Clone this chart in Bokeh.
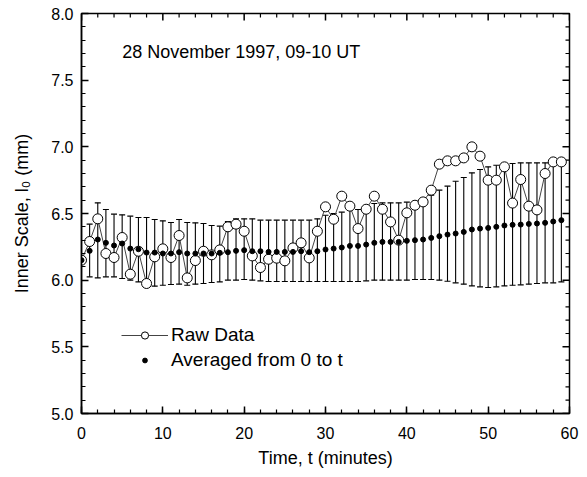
from bokeh.plotting import figure
from bokeh.models import (Range1d, SingleIntervalTicker, ColumnDataSource,
                          Whisker, TeeHead, Legend, LegendItem, Label, NumeralTickFormatter)
from bokeh.embed import file_html
from bokeh.resources import INLINE

# ---- data ----
time_min = list(range(60))
raw_data = [6.15, 6.29, 6.46, 6.20, 6.17, 6.32, 6.045, 6.217, 5.975, 6.175,
            6.235, 6.17, 6.335, 6.017, 6.147, 6.217, 6.19, 6.227, 6.40, 6.42,
            6.367, 6.182, 6.095, 6.157, 6.165, 6.145, 6.242, 6.28, 6.167, 6.367,
            6.55, 6.457, 6.63, 6.555, 6.387, 6.532, 6.63, 6.532, 6.437, 6.30,
            6.505, 6.562, 6.587, 6.675, 6.87, 6.895, 6.895, 6.917, 7.0, 6.93,
            6.75, 6.75, 6.85, 6.578, 6.755, 6.555, 6.527, 6.80, 6.887, 6.887]
averaged = [6.15, 6.22, 6.305, 6.28, 6.26, 6.275, 6.237, 6.232, 6.207, 6.207,
            6.20, 6.20, 6.21, 6.20, 6.20, 6.20, 6.20, 6.205, 6.21, 6.22,
            6.225, 6.217, 6.217, 6.212, 6.212, 6.212, 6.212, 6.217, 6.21, 6.217,
            6.23, 6.237, 6.245, 6.257, 6.257, 6.267, 6.28, 6.287, 6.287, 6.287,
            6.295, 6.30, 6.305, 6.317, 6.33, 6.342, 6.35, 6.362, 6.38, 6.387,
            6.392, 6.40, 6.41, 6.415, 6.417, 6.422, 6.425, 6.43, 6.44, 6.45]
# error bar ends for t = 1 .. 59
err_upper = [6.42, 6.58, 6.53, 6.495, 6.49, 6.48, 6.47, 6.47, 6.455,
             6.445, 6.432, 6.455, 6.432, 6.43, 6.425, 6.41, 6.405, 6.44, 6.46,
             6.46, 6.46, 6.45, 6.45, 6.45, 6.45, 6.45, 6.45, 6.45, 6.46,
             6.487, 6.50, 6.51, 6.53, 6.53, 6.537, 6.575, 6.58, 6.58, 6.58,
             6.585, 6.585, 6.59, 6.637, 6.675, 6.705, 6.742, 6.77, 6.805, 6.83,
             6.85, 6.862, 6.87, 6.875, 6.88, 6.88, 6.88, 6.88, 6.887, 6.90]
err_lower = [6.025, 6.017, 6.025, 6.025, 6.012, 6.0, 5.987, 5.955, 5.955,
             5.962, 5.967, 5.97, 5.962, 5.97, 5.975, 5.982, 5.987, 6.0, 6.0,
             6.005, 6.0, 5.995, 5.99, 5.99, 5.99, 5.99, 5.99, 5.99, 5.99,
             5.99, 5.99, 5.99, 5.99, 5.99, 5.995, 6.0, 6.0, 6.0, 6.0,
             6.0, 6.005, 6.005, 6.005, 6.0, 5.992, 5.98, 5.97, 5.957, 5.95,
             5.945, 5.95, 5.957, 5.962, 5.965, 5.97, 5.975, 5.98, 5.98, 5.987]
title_text = "28 November 1997, 09-10 UT"
x_label = "Time, t (minutes)"
y_label = "Inner Scale, l\u2080 (mm)"
raw_label = "Raw Data"
avg_label = "Averaged from 0 to t"

# axis ticks (also mirrored on the top and right edges)
x_major = list(range(0, 61, 10))
x_minor = [v for v in range(0, 61, 2) if v % 10]
y_major = [5.0, 5.5, 6.0, 6.5, 7.0, 7.5, 8.0]
y_minor = [round(5 + 0.1 * i, 1) for i in range(31) if i % 5]

FONT = "Liberation Sans"
FW, FH = 488, 400          # frame size in px
MAJ, MIN = 7, 4            # tick lengths in px

src = ColumnDataSource(dict(t=time_min, raw=raw_data, avg=averaged))
src_err = ColumnDataSource(dict(t=time_min[1:], upper=err_upper, lower=err_lower))

p = figure(frame_width=FW, frame_height=FH, x_range=Range1d(0, 60), y_range=Range1d(5, 8),
           output_backend="svg", toolbar_location=None,
           min_border_left=81, min_border_right=18, min_border_top=13, min_border_bottom=64)
p.background_fill_color = "white"
p.border_fill_color = "white"
p.outline_line_color = "black"
p.outline_line_width = 1.5
p.xgrid.visible = False
p.ygrid.visible = False
p.extra_x_ranges = {"px_x": Range1d(0, FW)}
p.extra_y_ranges = {"px_y": Range1d(0, FH)}

for ax in (p.xaxis[0], p.yaxis[0]):
    ax.axis_line_color = "black"
    ax.axis_line_width = 1.5
    ax.major_tick_in = MAJ
    ax.major_tick_out = 0
    ax.minor_tick_in = MIN
    ax.minor_tick_out = 0
    ax.major_tick_line_color = "black"
    ax.minor_tick_line_color = "black"
    ax.major_tick_line_width = 1.5
    ax.minor_tick_line_width = 1.2
    ax.major_label_text_font = FONT
    ax.major_label_text_font_size = "16px"
    ax.major_label_text_color = "black"
    ax.axis_label_text_font = FONT
    ax.axis_label_text_font_size = "18px"
    ax.axis_label_text_font_style = "normal"
    ax.axis_label_text_color = "black"

p.xaxis.ticker = SingleIntervalTicker(interval=10, num_minor_ticks=5)
p.yaxis.ticker = SingleIntervalTicker(interval=0.5, num_minor_ticks=5)
p.yaxis.formatter = NumeralTickFormatter(format="0.0")
p.xaxis.axis_label = x_label
p.yaxis.axis_label = y_label
p.xaxis.major_label_standoff = 13
p.yaxis.major_label_standoff = 8
p.xaxis.axis_label_standoff = 6
p.yaxis.axis_label_standoff = 16

# mirrored ticks on top edge
for ticks, ln_, lw in ((x_major, MAJ, 1.5), (x_minor, MIN, 1.2)):
    p.segment(x0=ticks, x1=ticks, y0=[FH] * len(ticks), y1=[FH - ln_] * len(ticks),
              y_range_name="px_y", line_color="black", line_width=lw)
# mirrored ticks on right edge
for ticks, ln_, lw in ((y_major, MAJ, 1.5), (y_minor, MIN, 1.2)):
    p.segment(y0=ticks, y1=ticks, x0=[FW] * len(ticks), x1=[FW - ln_] * len(ticks),
              x_range_name="px_x", line_color="black", line_width=lw)

# error bars
w = Whisker(base="t", upper="upper", lower="lower", source=src_err,
            line_color="black", line_width=1.1,
            upper_head=TeeHead(size=6, line_color="black", line_width=1.1),
            lower_head=TeeHead(size=6, line_color="black", line_width=1.1))
p.add_layout(w)

ln = p.line("t", "raw", source=src, line_color="#444444", line_width=1)
circ = p.scatter("t", "raw", source=src, marker="circle", size=10,
                 fill_color="white", line_color="black", line_width=1)
dots = p.scatter("t", "avg", source=src, marker="circle", size=5,
                 fill_color="black", line_color="black")

leg1 = Legend(items=[LegendItem(label=raw_label, renderers=[ln, circ])],
              location=(40, 67), glyph_width=47, glyph_height=18, label_standoff=3,
              padding=0, margin=0, border_line_color=None, background_fill_alpha=0,
              label_text_font=FONT, label_text_font_size="19px", label_text_color="black")
leg2 = Legend(items=[LegendItem(label=avg_label, renderers=[dots])],
              location=(40, 42), glyph_width=47, glyph_height=12, label_standoff=3,
              padding=0, margin=0, border_line_color=None, background_fill_alpha=0,
              label_text_font=FONT, label_text_font_size="19px", label_text_color="black")
p.add_layout(leg1, "center")
p.add_layout(leg2, "center")

p.add_layout(Label(x=5, y=7.71, text=title_text, text_baseline="middle",
                   text_font=FONT, text_font_size="18px", text_color="black"))

open("out.html", "w").write(file_html(p, INLINE))
